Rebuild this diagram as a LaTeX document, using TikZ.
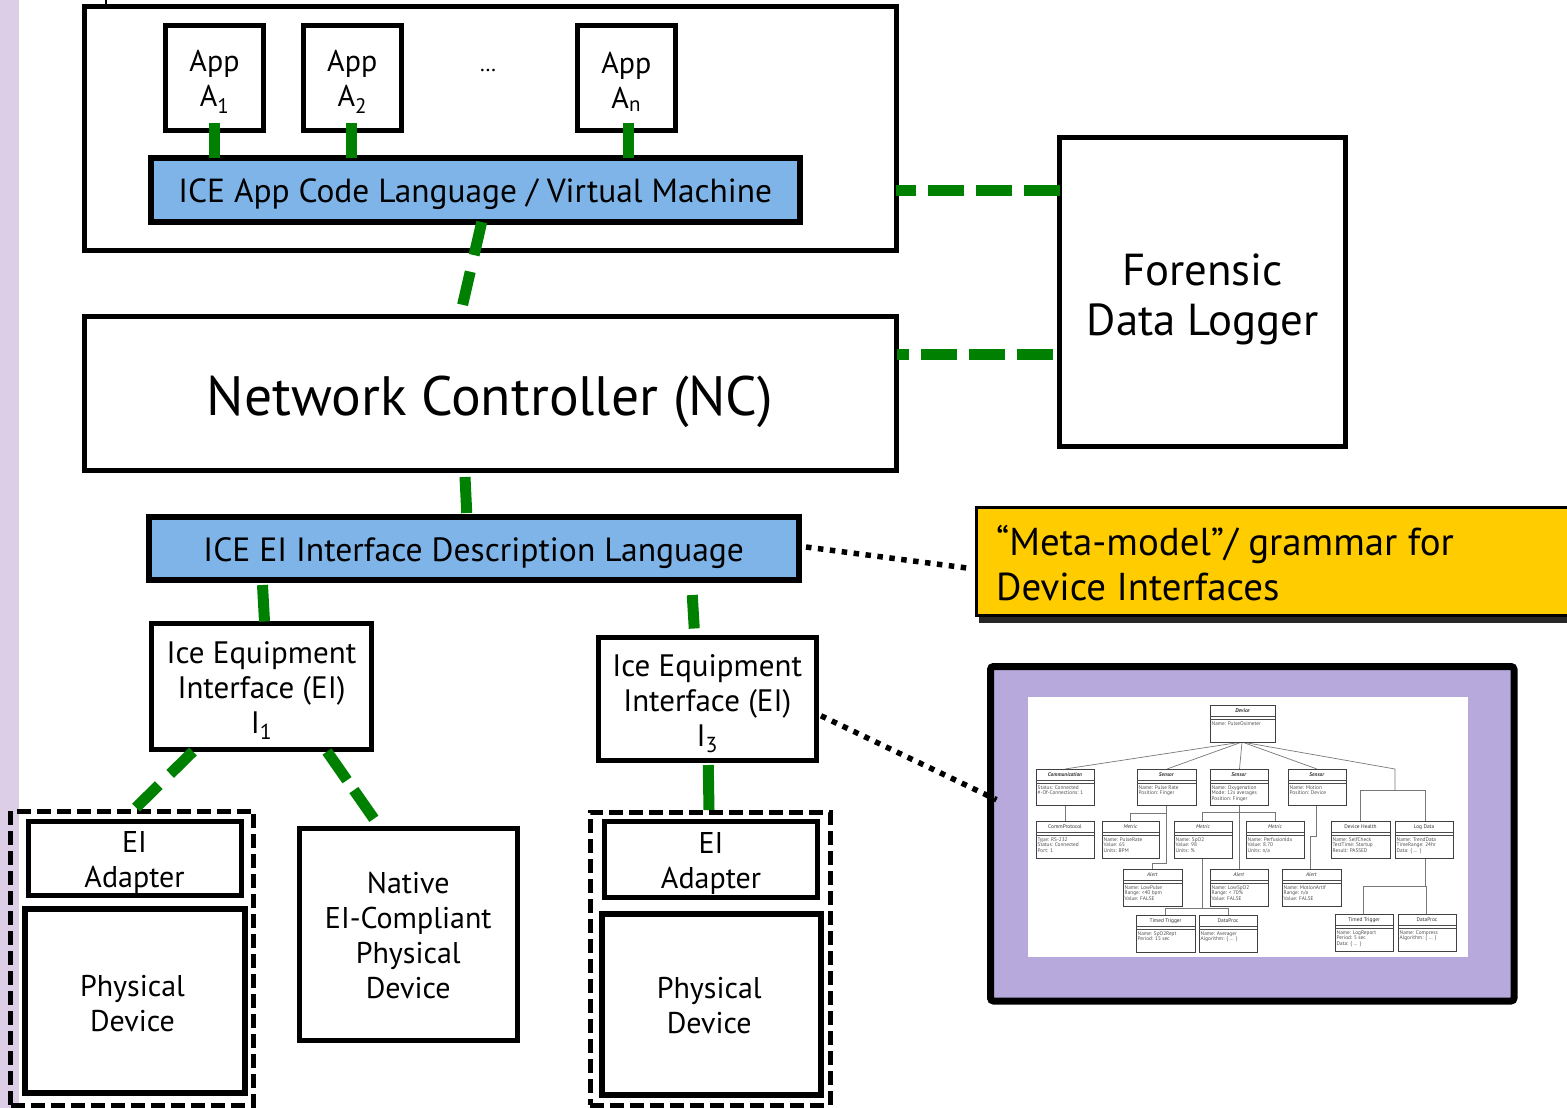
\documentclass[tikz,border=0pt]{standalone}
\usepackage{fontspec}
\setmainfont{PT Sans}
\usetikzlibrary{fit,calc}
\definecolor{cgreen}{RGB}{0,128,0}
\definecolor{barblue}{RGB}{126,180,232}
\definecolor{metayellow}{RGB}{255,204,0}
\definecolor{lav}{RGB}{183,169,220}
\definecolor{stripc}{RGB}{221,206,232}
\definecolor{umltext}{RGB}{80,80,80}
\definecolor{umlline}{RGB}{120,120,120}
\newcommand\fsz[2]{\fontsize{#1}{#2}\selectfont}
\newcommand\umlbox[7]{%
  \draw[umlframe] (#2,#3) rectangle (#4,#5);
  \draw[umlsep] (#2,{#3+11.5}) -- (#4,{#3+11.5}) (#2,{#3+14.5}) -- (#4,{#3+14.5});
  \node[umlhead] (#1) at ({(#2+#4)/2},{#3+6}) {#6};
  \node[umlbody] (#1b) at ({#2+1.5},{#3+16.5}) {#7};
}
\begin{document}
\begin{tikzpicture}[x=1pt,y=-1pt,
  blk/.style={draw=black, line width=5pt, fill=white, inner sep=0pt, outer sep=0pt},
  barbox/.style={blk, fill=barblue, line width=6pt},
  grp/.style={draw=black, line width=5pt, dash pattern=on 14pt off 6pt, inner sep=0pt, outer sep=0pt},
  txt/.style={align=center, inner sep=0pt},
  gconn/.style={draw=cgreen, line width=11pt},
  dotc/.style={draw=black, line width=5.5pt, dash pattern=on 5.5pt off 6.5pt},
  umlframe/.style={draw=black!75, line width=1pt, fill=white},
  umlsep/.style={draw=black!70, line width=0.6pt},
  umlhead/.style={inner sep=0pt, text=black!80, font=\fsz{5.4}{5.5}},
  umlbody/.style={inner sep=0pt, anchor=north west, align=left, text=umltext, font=\fsz{5.3}{5.4}},
  umlconn/.style={draw=umlline, line width=0.7pt},
  apptext/.style={txt, font=\fsz{30}{35}},
  midtext/.style={txt, font=\fsz{31}{35}},
  devtext/.style={txt, font=\fsz{30}{35}},
]
\useasboundingbox (0,0) rectangle (1567,1108);
\clip (0,0) rectangle (1567,1108);
% left strip and tick
\fill[stripc] (0,0) rectangle (18.5,1108);
\draw[line width=2pt] (106,0) -- (106,5);

% ---------- top application box ----------
\node[blk, fit={(84,7) (896,250)}] (top) {};
\node[blk, fit={(165.5,25.5) (263.5,130)}] (a1) {};
\node[apptext] (a1t) at ($(a1.center)+(0,4)$) {App\\A\textsubscript{1}};
\node[blk, fit={(303.5,25.5) (401,130)}] (a2) {};
\node[apptext] (a2t) at ($(a2.center)+(0,4)$) {App\\A\textsubscript{2}};
\node[blk, fit={(577.5,25.5) (675,130)}] (an) {};
\node[apptext] (ant) at ($(an.center)+(0,4)$) {App\\A\textsubscript{n}};
\node[font=\fsz{22}{24}] (dots) at (488,70) {\ldots};
\node[barbox, fit={(150.5,158) (800,222)}] (vm) {};
\node[txt, font=\fsz{33.4}{36}] (vmt) at ($(vm.center)+(0,4)$) {ICE App Code Language / Virtual Machine};

% ---------- network controller ----------
\node[blk, fit={(84,316) (896,470)}] (nc) {};
\node[txt, font=\fsz{55.5}{60}] (nct) at ($(nc.center)+(0,9)$) {Network Controller (NC)};

% ---------- forensic logger ----------
\node[blk, fit={(1059.5,137) (1345.5,446.5)}] (logger) {};
\node[txt, font=\fsz{44.8}{50}] (loggert) at ($(logger.center)+(0,8)$) {Forensic\\ Data Logger};

% ---------- EI IDL ----------
\node[barbox, fit={(148.5,517) (799,580)}] (idl) {};
\node[txt, font=\fsz{33.6}{36}] (idlt) at ($(idl.center)+(0,5)$) {ICE EI Interface Description Language};

% ---------- meta-model note ----------
\fill[black!85] (979,514) rectangle (1600,623);
\node[draw=black, line width=3pt, fill=metayellow, inner sep=0pt, outer sep=0pt, fit={(976,507) (1600,615)}] (meta) {};
\node[anchor=west, align=left, inner sep=0pt, font=\fsz{38.9}{45}] (metatext) at (996,563.5) {“Meta-model”/ grammar for\\Device Interfaces};

% ---------- equipment interfaces ----------
\node[blk, fit={(151.5,623.5) (371.5,749.5)}] (ei1) {};
\node[midtext] (ei1t) at ($(ei1.center)+(0,4)$) {Ice Equipment\\Interface (EI)\\I\textsubscript{1}};
\node[blk, fit={(598.5,637.5) (816,760)}] (ei3) {};
\node[midtext] (ei3t) at ($(ei3.center)+(0,5)$) {Ice Equipment\\Interface (EI)\\I\textsubscript{3}};

% ---------- device groups ----------
\node[grp, fit={(10.5,811) (253.5,1105)}] (g1) {};
\node[blk, fit={(28,821.5) (241,895.5)}] (ad1) {};
\node[devtext] (ad1t) at ($(ad1.center)+(0,4)$) {EI\\Adapter};
\node[blk, line width=6pt, fit={(24.5,909) (244.5,1092.5)}] (pd1) {};
\node[devtext] (pd1t) at ($(pd1.center)+(-2,3)$) {Physical\\Device};
\node[blk, fit={(299.5,828.5) (517,1040.5)}] (nat) {};
\node[devtext] (natt) at ($(nat.center)+(0,1)$) {Native\\EI-Compliant\\Physical\\Device};
\node[grp, fit={(590,812) (830,1105)}] (g3) {};
\node[blk, fit={(604.5,821.5) (817.5,897)}] (ad3) {};
\node[devtext] (ad3t) at ($(ad3.center)+(0,4)$) {EI\\Adapter};
\node[blk, line width=6pt, fit={(601.5,913.5) (821,1094.5)}] (pd3) {};
\node[devtext] (pd3t) at ($(pd3.center)+(-2,2)$) {Physical\\Device};

% ---------- purple picture frame ----------
\node[draw=black, line width=7pt, fill=lav, rounded corners=3pt, inner sep=0pt, outer sep=0pt, fit={(990.5,666.5) (1514,1001)}] (pic) {};
\node[fill=white, inner sep=0pt, outer sep=0pt, fit={(1028,697) (1468,957)}] (picw) {};

% UML connectors
\draw[umlconn] (1242,742) -- (1065,769);
\draw[umlconn] (1242,742) -- (1167,769);
\draw[umlconn] (1242,742) -- (1239.5,769);
\draw[umlconn] (1242,742) -- (1317,769);
\draw[umlconn] (1242,742) -- (1395,769) -- (1395,790);
\draw[umlconn] (1425,821) -- (1425,790) -- (1360.7,790) -- (1360.7,821);
\draw[umlconn] (1065,805) -- (1065,821);
\draw[umlconn] (1166.7,805) -- (1166.7,863.3) -- (1152.7,863.3) -- (1152.7,869);
\draw[umlconn] (1166.7,813.3) -- (1130.7,813.3) -- (1130.7,821);
\draw[umlconn] (1239.3,805) -- (1239.3,869);
\draw[umlconn] (1202.7,821) -- (1202.7,812.7) -- (1275,812.7) -- (1275,821);
\draw[umlconn] (1202.7,858) -- (1202.7,908.3);
\draw[umlconn] (1165,915) -- (1165,908.3) -- (1228.3,908.3) -- (1228.3,915);
\draw[umlconn] (1316.7,805) -- (1316.7,836.7) -- (1310.7,836.7) -- (1310.7,869);
\draw[umlconn] (1425,858) -- (1425,886);
\draw[umlconn] (1363.3,914) -- (1363.3,886) -- (1426.7,886) -- (1426.7,914);

% UML boxes
\umlbox{udev}{1210}{705}{1275}{742}{\textbf{\textit{Device}}}{Name: PulseOximeter}
\umlbox{ucomm}{1036}{769}{1094}{805}{\textbf{\textit{Communication}}}{Status: Connected\\\#-Of-Connections: 1}
\umlbox{us1}{1137}{769}{1196}{805}{\textbf{\textit{Sensor}}}{Name: Pulse Rate\\Position: Finger}
\umlbox{us2}{1210}{769}{1268}{805}{\textbf{\textit{Sensor}}}{Name: Oxygenation\\Mode: 12s averages\\Position: Finger}
\umlbox{us3}{1288}{769}{1346}{805}{\textbf{\textit{Sensor}}}{Name: Motion\\Position: Device}
\umlbox{ucp}{1036}{821}{1094}{858}{CommProtocol}{Type: RS-232\\Status: Connected\\Port: 1}
\umlbox{um1}{1102}{821}{1159}{858}{\textit{Metric}}{Name: PulseRate\\Value: 65\\Units: BPM}
\umlbox{um2}{1174}{821}{1232}{858}{\textit{Metric}}{Name: SpO2\\Value: 98\\Units: \%}
\umlbox{um3}{1246}{821}{1304}{858}{\textit{Metric}}{Name: PerfusionIdx\\Value: 8.70\\Units: n/a}
\umlbox{udh}{1331}{821}{1390}{858}{Device Health}{Name: SelfCheck\\TestTime: Startup\\Result: PASSED}
\umlbox{uld}{1395}{821}{1453}{858}{Log Data}{Name: TrendData\\TimeRange: 24hr\\Data: \{ ... \}}
\umlbox{ua1}{1123}{869}{1182}{906}{\textit{Alert}}{Name: LowPulse\\Range: <40 bpm\\Value: FALSE}
\umlbox{ua2}{1210}{869}{1268}{906}{\textit{Alert}}{Name: LowSpO2\\Range: < 70\%\\Value: FALSE}
\umlbox{ua3}{1282}{869}{1341}{906}{\textit{Alert}}{Name: MotionArtif\\Range: n/a\\Value: FALSE}
\umlbox{ut1}{1136}{915}{1195}{952}{Timed Trigger}{Name: SpO2Rept\\Period: 15 sec}
\umlbox{udp1}{1199}{915}{1257}{952}{DataProc}{Name: Averager\\Algorithm: \{ ... \}}
\umlbox{ut2}{1335}{914}{1393}{951}{Timed Trigger}{Name: LogReport\\Period: 5 sec\\Data: \{ ... \}}
\umlbox{udp2}{1398}{914}{1456}{951}{DataProc}{Name: Compress\\Algorithm: \{ ... \}}

% ---------- green connectors ----------
\draw[gconn] ($(a1.south)+(0,-7)$) -- (a1.south |- vm.north);
\draw[gconn] ($(a2.south)+(-1,-7)$) -- ($(a2.south |- vm.north)+(-1,0)$);
\draw[gconn] ($(an.south)+(2,-7)$) -- ($(an.south |- vm.north)+(2,0)$);
\draw[gconn, dash pattern=on 34pt off 17pt] ($(vm.south)+(6.5,0)$) -- ($(nc.north)+(-30,0)$);
\draw[gconn] ($(nc.south)+(-25,7)$) -- ($(idl.north)+(-7,-4)$);
\draw[gconn] ($(ei1.north |- idl.south)+(1,5)$) -- ($(ei1.north)+(3,-2)$);
\draw[gconn] ($(ei3.north |- idl.south)+(-15,15)$) -- ($(ei3.north)+(-13,-9)$);
\draw[gconn] ($(ei3.south)+(1,5)$) -- ($(g3.north)+(-1,-2)$);
\draw[gconn, dash pattern=on 32pt off 16pt] ($(ei1.south west)+(41.5,2)$) -- ($(g1.north west)+(121,1)$);
\draw[gconn, dash pattern=on 35pt off 12pt] ($(ei1.south west)+(175.5,2)$) -- ($(nat.north west)+(77,-6)$);
\draw[gconn, dash pattern=on 36pt off 12pt] (logger.west |- 0,190) -- (top.east |- 0,190);
\draw[gconn, dash pattern=on 36pt off 12pt] ($(logger.west |- 0,354)+(-7,0)$) -- ($(nc.east |- 0,354)+(1,0)$);

% ---------- dotted connectors ----------
\draw[dotc] ($(idl.east)+(7,-1.5)$) -- ($(meta.west)+(-9,7)$);
\draw[dotc] ($(ei3.east)+(5,17)$) -- ($(pic.west)+(6,-34)$);
\end{tikzpicture}
\end{document}
